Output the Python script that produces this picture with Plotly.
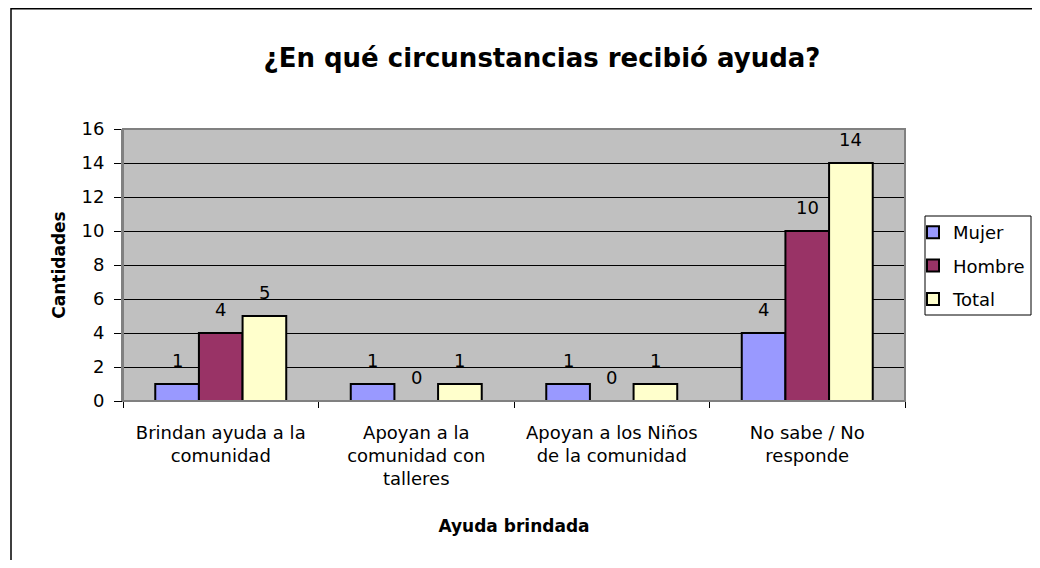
import plotly.graph_objects as go

# ---- data ----
categories = [
    "Brindan ayuda a la<br>comunidad",
    "Apoyan a la<br>comunidad con<br>talleres",
    "Apoyan a los Niños<br>de la comunidad",
    "No sabe / No<br>responde",
]
series_names = ["Mujer", "Hombre", "Total"]
mujer = [1, 1, 1, 4]
hombre = [4, 0, 0, 10]
total = [5, 1, 1, 14]
y_ticks = [0, 2, 4, 6, 8, 10, 12, 14, 16]

title_text = "¿En qué circunstancias recibió ayuda?"
x_title = "Ayuda brindada"
y_title = "Cantidades"

colors = ["#9999FF", "#993366", "#FFFFCC"]
FONT = "DejaVu Sans"

# page is offset by the body margin (8px); keep figure inside the window
OFF = 8
W, H = 1040 - 2 * OFF, 568 - 2 * OFF
PL, PR, PT, PB = 123, 905, 129, 401  # plot area in page pixels
L = PL - OFF
T = PT - OFF
R = W - (PR - OFF)
B = H - (PB - OFF)
plot_w = W - L - R
plot_h = H - T - B


def px_x(px):
    return (px - OFF - L) / plot_w


def px_y(py):
    return (H - B - (py - OFF)) / plot_h


bargap = 0.33
bar_w = (1 - bargap) / 3

fig = go.Figure()
values = [mujer, hombre, total]
for name, vals, col in zip(series_names, values, colors):
    fig.add_trace(go.Bar(
        name=name, x=categories, y=vals, legendgroup=name,
        marker=dict(color=col, line=dict(color="black", width=2)),
    ))

# data labels above bars
annotations = []
for si, vals in enumerate(values):
    off = (si - 1) * bar_w
    for ci, v in enumerate(vals):
        annotations.append(dict(
            x=ci + off, y=v, xref="x", yref="y", text=str(v),
            showarrow=False, yshift=24, yanchor="middle",
            font=dict(family=FONT, size=18, color="black"),
        ))

shapes = [
    # outer chart border (left/top visible)
    dict(type="rect", xref="paper", yref="paper",
         x0=px_x(11), x1=px_x(1200), y0=px_y(700), y1=px_y(8.8),
         line=dict(color="black", width=1.5), fillcolor="rgba(0,0,0,0)", layer="below"),
    # plot area border
    dict(type="rect", xref="paper", yref="paper", x0=0, x1=1, y0=0, y1=1,
         line=dict(color="#808080", width=2), fillcolor="rgba(0,0,0,0)", layer="above"),
    # legend box
    dict(type="rect", xref="paper", yref="paper",
         x0=px_x(925), x1=px_x(1031), y0=px_y(315), y1=px_y(216),
         line=dict(color="black", width=1), fillcolor="white", layer="above"),
]

fig.update_layout(
    width=W, height=H,
    margin=dict(l=L, r=R, t=T, b=B, pad=0, autoexpand=False),
    paper_bgcolor="white",
    plot_bgcolor="#C0C0C0",
    barmode="group", bargap=bargap, bargroupgap=0,
    font=dict(family=FONT, size=18, color="black"),
    title=dict(text="<b>" + title_text + "</b>", x=(542 - OFF) / W, xanchor="center",
               y=1 - (58 - OFF) / H, yanchor="middle",
               font=dict(family=FONT, size=26, color="black")),
    showlegend=True,
    legend=dict(x=px_x(913), xanchor="left", y=px_y(214), yanchor="top",
                bgcolor="rgba(0,0,0,0)", borderwidth=0, tracegroupgap=7,
                font=dict(family=FONT, size=18, color="black")),
    annotations=annotations,
    shapes=shapes,
)

fig.update_xaxes(
    type="category", showgrid=False, showline=True, linecolor="black", linewidth=1,
    ticks="outside", tickson="boundaries", ticklen=6, tickcolor="black",
    ticklabelstandoff=15,
    tickfont=dict(family=FONT, size=18, color="black"),
    title=dict(text="<b>" + x_title + "</b>", standoff=31,
               font=dict(family=FONT, size=17, color="black")),
)
fig.update_yaxes(
    range=[0, 16], tickvals=y_ticks, showgrid=True, gridcolor="black", gridwidth=1,
    zeroline=True, zerolinecolor="black", zerolinewidth=1,
    showline=True, linecolor="#808080", linewidth=2,
    ticks="outside", ticklen=7, tickcolor="black",
    ticklabelstandoff=6,
    tickfont=dict(family=FONT, size=18, color="black"),
    title=dict(text="<b>" + y_title + "</b>", standoff=12,
               font=dict(family=FONT, size=17, color="black")),
)

fig.write_html("out.html")
